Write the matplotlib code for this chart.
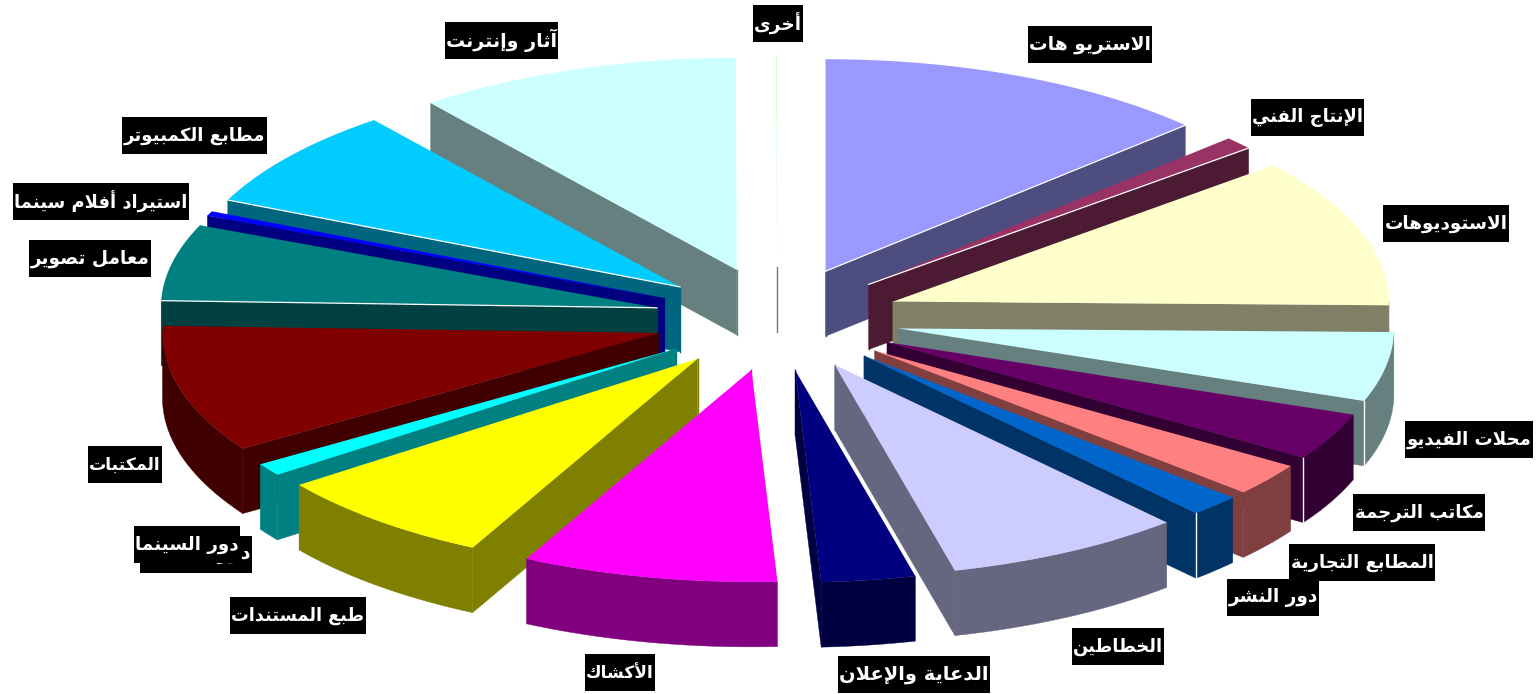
"""Exploded 3D pie of media businesses, with Arabic labels on black boxes."""

import matplotlib

matplotlib.use("Agg")
import matplotlib.pyplot as plt
import numpy as np
from matplotlib.patches import Polygon, Rectangle

# clockwise from 12 o'clock
labels = [
    "الاستريو هات", "الإنتاج الفني", "الاستوديوهات", "محلات الفيديو", "مكاتب الترجمة",
    "المطابع التجارية", "دور النشر", "الخطاطين", "الدعاية والإعلان", "الأكشاك",
    "طبع المستندات", "دور السينما", "المكتبات", "معامل تصوير", "استيراد أفلام سينما",
    "مطابع الكمبيوتر", "آثار وإنترنت", "أخرى",
]
shares = [12.92, 0.97, 11.39, 5.28, 3.61, 2.5, 1.67, 7.78, 3.06, 8.33, 7.36, 0.97, 9.72, 5.83, 0.36, 7.69, 10.56, 0.03]
colors = [
    "#9999FF", "#993366", "#FFFFCC", "#CCFFFF", "#660066", "#FF8080", "#0066CC", "#CCCCFF", "#000080",
    "#FF00FF", "#FFFF00", "#00FFFF", "#800000", "#008080", "#0000FF", "#00CCFF", "#CCFFFF", "#CCFFCC",
]

# label boxes in pixels: left, top, right, bottom
label_boxes = [
    (1028, 26, 1152, 63), (1251, 99, 1364, 136), (1383, 205, 1509, 242), (1405, 421, 1533, 458),
    (1353, 494, 1485, 531), (1289, 544, 1435, 581), (1227, 579, 1319, 616), (1072, 628, 1164, 665),
    (838, 656, 990, 693), (585, 654, 655, 691), (230, 597, 366, 634), (134, 526, 240, 563),
    (88, 446, 162, 483), (29, 240, 151, 277), (13, 183, 189, 220), (122, 117, 267, 154),
    (445, 22, 558, 59), (753, 5, 803, 42),
]
# the picture shows this label twice, the copy sits slightly lower and behind
ghost_label = "دور السينما"
ghost_box = (140, 536, 252, 573)

CX, CY = 777, 319
RX, RY = 496, 212
EXPLODE_X, EXPLODE_Y = 123, 52
DEPTH = 65
WHITE_EDGES = {0, 1, 13, 15}
WHITE_CORNERS = {3, 4, 6}

# presentation forms: isolated, final, initial, medial
FORMS = {
    "آ": (0xFE81, 0xFE82), "أ": (0xFE83, 0xFE84), "إ": (0xFE87, 0xFE88), "ا": (0xFE8D, 0xFE8E),
    "ة": (0xFE93, 0xFE94), "د": (0xFEA9, 0xFEAA), "ذ": (0xFEAB, 0xFEAC), "ر": (0xFEAD, 0xFEAE),
    "ز": (0xFEAF, 0xFEB0), "و": (0xFEED, 0xFEEE), "ى": (0xFEEF, 0xFEF0),
}
for letter, start in {
    "ب": 0xFE8F, "ت": 0xFE95, "ث": 0xFE99, "ج": 0xFE9D, "ح": 0xFEA1, "خ": 0xFEA5, "س": 0xFEB1,
    "ش": 0xFEB5, "ص": 0xFEB9, "ض": 0xFEBD, "ط": 0xFEC1, "ظ": 0xFEC5, "ع": 0xFEC9, "غ": 0xFECD,
    "ف": 0xFED1, "ق": 0xFED5, "ك": 0xFED9, "ل": 0xFEDD, "م": 0xFEE1, "ن": 0xFEE5, "ه": 0xFEE9,
    "ي": 0xFEF1,
}.items():
    FORMS[letter] = (start, start + 1, start + 2, start + 3)
LAM_ALEF = {"ا": (0xFEFB, 0xFEFC), "أ": (0xFEF7, 0xFEF8), "إ": (0xFEF9, 0xFEFA), "آ": (0xFEF5, 0xFEF6)}


def shape(text: str) -> str:
    # matplotlib does no Arabic shaping or bidi, so pick the glyphs and reverse here
    out = []
    i = 0
    while i < len(text):
        ch = text[i]
        if ch not in FORMS:
            out.append(ch)
            i += 1
            continue
        joins_prev = i > 0 and text[i - 1] in FORMS and len(FORMS[text[i - 1]]) == 4
        if ch == "ل" and i + 1 < len(text) and text[i + 1] in LAM_ALEF:
            out.append(chr(LAM_ALEF[text[i + 1]][1 if joins_prev else 0]))
            i += 2
            continue
        forms = FORMS[ch]
        joins_next = len(forms) == 4 and i + 1 < len(text) and text[i + 1] in FORMS
        if joins_prev and joins_next:
            out.append(chr(forms[3]))
        elif joins_prev:
            out.append(chr(forms[1]))
        elif joins_next:
            out.append(chr(forms[2]))
        else:
            out.append(chr(forms[0]))
        i += 1
    return "".join(reversed(out))


def rim(t, ox, oy):
    return ox + RX * np.sin(t), oy - RY * np.cos(t)


def draw_slice(ax, t1, t2, color):
    mid = (t1 + t2) / 2
    ox = CX + EXPLODE_X * np.sin(mid)
    oy = CY - EXPLODE_Y * np.cos(mid)
    rgb = np.array(matplotlib.colors.to_rgb(color))
    side = rgb * 0.5

    def face(points):
        ax.add_patch(Polygon(points, closed=True, facecolor=side, edgecolor=side, lw=0.3, zorder=1))

    # the nearly empty slice at the top only shows as this drop line
    ax.plot([ox, ox], [oy, oy + DEPTH], color=side, lw=1, zorder=1)

    for t, visible in ((t1, np.sin(t1) < -0.01), (t2, np.sin(t2) > 0.01)):
        if visible:
            x, y = rim(t, ox, oy)
            face([(ox, oy), (x, y), (x, y + DEPTH), (ox, oy + DEPTH)])

    lo, hi = max(t1, np.pi / 2), min(t2, 3 * np.pi / 2)
    if lo < hi:
        ts = np.linspace(lo, hi, 60)
        x, y = rim(ts, ox, oy)
        face(np.column_stack([np.r_[x, x[::-1]], np.r_[y, y[::-1] + DEPTH]]))

    ts = np.linspace(t1, t2, 80)
    x, y = rim(ts, ox, oy)
    ax.add_patch(Polygon(np.column_stack([np.r_[ox, x], np.r_[oy, y]]), closed=True,
                         facecolor=color, edgecolor="none", lw=0, zorder=1))
    return ox, oy


def draw_label(ax, fig, text, box, zorder):
    left, top, right, bottom = box
    ax.add_patch(Rectangle((left, top), right - left, bottom - top, facecolor="black", edgecolor="none", zorder=zorder))
    label = ax.text((left + right) / 2, (top + bottom) / 2, shape(text), color="white", fontsize=14,
                    fontweight="bold", family="DejaVu Sans", ha="center", va="center", zorder=zorder + 0.5)
    width = label.get_window_extent(fig.canvas.get_renderer()).width
    label.set_fontsize(min(14.0, 14.0 * (right - left - 2) / width))


def main() -> None:
    fig = plt.figure(figsize=(15.39, 6.94), dpi=100)
    ax = fig.add_axes([0, 0, 1, 1])
    ax.set_xlim(0, 1539)
    ax.set_ylim(694, 0)
    ax.axis("off")

    edges = np.r_[0, np.cumsum(shares)] / sum(shares) * 2 * np.pi
    starts, ends = edges[:-1], edges[1:]
    mids = (starts + ends) / 2

    # back to front, so nearer slices cover the side walls behind them
    for i in np.argsort(-np.cos(mids)):
        ox, oy = draw_slice(ax, starts[i], ends[i], colors[i])
        if i in WHITE_EDGES:
            t = ends[i] if i < 9 else starts[i]
            x, y = rim(t, ox, oy)
            ax.plot([ox, x], [oy, y], color="white", lw=0.9, zorder=1)
        if i in WHITE_CORNERS:
            x, y = rim(ends[i], ox, oy)
            ax.plot([x, x], [y, y + DEPTH], color="white", lw=1.0, zorder=1)

    draw_label(ax, fig, ghost_label, ghost_box, 5)
    for text, box in zip(labels, label_boxes):
        draw_label(ax, fig, text, box, 7)

    fig.savefig("out.png", dpi=100)
    plt.close(fig)


if __name__ == "__main__":
    main()
